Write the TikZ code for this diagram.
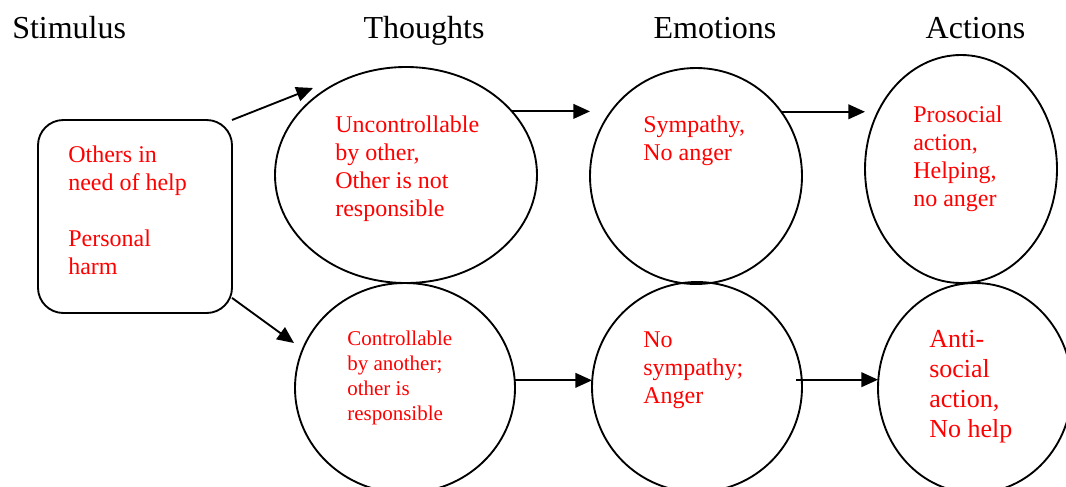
\documentclass[tikz,border=0pt]{standalone}
\usepackage{fontspec}
\setmainfont{Liberation Serif}
\usetikzlibrary{shapes.geometric,arrows.meta}
\tikzset{
  ell/.style={draw, line width=1.4pt, ellipse, inner sep=0pt, outer sep=0pt},
  sbox/.style={draw, line width=1.4pt, rectangle, rounded corners=19pt, inner sep=0pt, outer sep=0pt,
    minimum width=194*0.75pt, minimum height=193*0.75pt},
  arr/.style={line width=1.4pt, -{Triangle[length=12.5pt,width=11pt]}},
  ttl/.style={anchor=base, inner sep=0pt, font=\fontsize{24}{28}\selectfont},
  rtxt/.style={anchor=north west, inner sep=0pt, align=left, text=red, font=\fontsize{18}{21}\selectfont},
  stxt/.style={anchor=north west, inner sep=0pt, align=left, text=red, font=\fontsize{15.75}{18.75}\selectfont},
  btxt/.style={anchor=north west, inner sep=0pt, align=left, text=red, font=\fontsize{19.5}{22.5}\selectfont}
}
\begin{document}
\begin{tikzpicture}[x=0.75pt,y=-0.75pt]
\useasboundingbox (0,0) rectangle (1066,486);
% titles
\node[ttl, anchor=base west] (tstim) at (12,38) {Stimulus};
\node[ttl] (tthou) at (424,38) {Thoughts};
\node[ttl] (temo) at (715,38) {Emotions};
\node[ttl] (tact) at (975.5,38) {Actions};
% shapes
\node[sbox] (box) at (135,216.5) {};
\node[ell, minimum width=262*0.75pt, minimum height=216*0.75pt] (e1) at (406,175) {};
\node[ell, minimum width=220*0.75pt, minimum height=210*0.75pt] (e2) at (405,388) {};
\node[ell, minimum width=212*0.75pt, minimum height=216*0.75pt] (e3) at (696,176) {};
\node[ell, minimum width=192*0.75pt, minimum height=228*0.75pt] (e4) at (961,169) {};
\node[ell, minimum width=210*0.75pt, minimum height=210*0.75pt] (e5) at (697,387) {};
\node[ell, minimum width=194*0.75pt, minimum height=210*0.75pt] (e6) at (975,388) {};
% texts
\node[rtxt] (tbox) at (68,145.5) {Others in\\need of help\\[21pt]Personal\\harm};
\node[rtxt] (t1) at (335,115.6) {Uncontrollable\\by other,\\Other is not\\responsible};
\node[stxt] (t2) at (347,330.5) {Controllable\\by another;\\other is\\responsible};
\node[rtxt] (t3) at (643,115.6) {Sympathy,\\No anger};
\node[rtxt] (t4) at (913,105.6) {Prosocial\\action,\\Helping,\\no anger};
\node[rtxt] (t5) at (643,331.6) {No\\sympathy;\\Anger};
\node[btxt] (t6) at (929,330) {Anti-\\social\\action,\\No help};
% connectors
\coordinate (a1) at (313,88);
\coordinate (a2) at (294,343);
\draw[arr] (box.north east) -- (a1);
\draw[arr] (box.-40.7) -- (a2);
\draw[arr] (e1.31.5) -- (e1.31.5 -| e3.west);
\draw[arr] (e3.37) -- (e3.37 -| e4.west);
\draw[arr] (e2.4) -- (e2.4 -| e5.west);
\draw[arr] ([xshift=-4pt]e5.4) -- (e5.4 -| e6.west);
\end{tikzpicture}
\end{document}
